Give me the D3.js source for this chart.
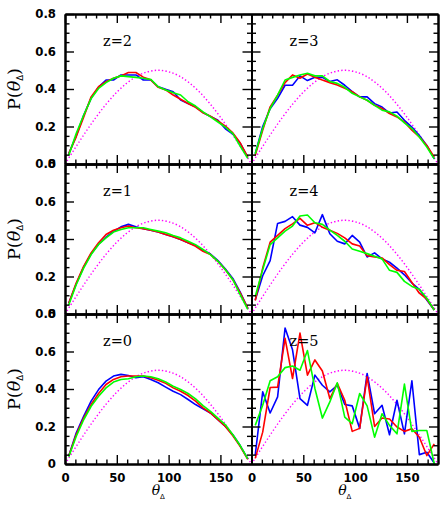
<!DOCTYPE html>
<html>
<head>
<meta charset="utf-8">
<script src="https://cdn.jsdelivr.net/npm/d3@7"></script>
<style>
  body { margin: 0; background: #fff; }
  svg { display: block; }
</style>
</head>
<body>
<div id="chart"></div>
<script>
// bin centres (degrees)
const thetaBins = [3.6, 10.8, 18, 25.2, 32.4, 39.6, 46.8, 54, 61.2, 68.4, 75.6, 82.8, 90,
  97.2, 104.4, 111.6, 118.8, 126, 133.2, 140.4, 147.6, 154.8, 162, 169.2, 176.4];

// isotropic reference curve (magenta, dotted)
const isoTheta = [0, 10, 20, 30, 40, 50, 60, 70, 80, 90, 100, 110, 120, 130, 140, 150, 160, 170, 180];
const isoValues = [0, 0.087, 0.171, 0.25, 0.321, 0.383, 0.433, 0.47, 0.492, 0.5, 0.492, 0.47, 0.433,
  0.383, 0.321, 0.25, 0.171, 0.087, 0];

const yTicks = [0, 0.2, 0.4, 0.6, 0.8];
const yMinorTicks = [0.05, 0.1, 0.15, 0.25, 0.3, 0.35, 0.45, 0.5, 0.55, 0.65, 0.7, 0.75];
const xTicks = [0, 50, 100, 150];
const xMinorTicks = [10, 20, 30, 40, 60, 70, 80, 90, 110, 120, 130, 140, 160, 170];

const blueZ0 = [0.043, 0.165, 0.254, 0.335, 0.397, 0.442, 0.469, 0.478, 0.472, 0.46, 0.465, 0.451, 0.433,
  0.41, 0.388, 0.37, 0.344, 0.317, 0.294, 0.272, 0.236, 0.2, 0.156, 0.097, 0.027];
const redZ0 = [0.043, 0.156, 0.245, 0.317, 0.376, 0.424, 0.451, 0.465, 0.469, 0.469, 0.469, 0.46, 0.447,
  0.43, 0.406, 0.388, 0.365, 0.335, 0.299, 0.272, 0.236, 0.2, 0.15, 0.093, 0.025];
const greenZ0 = [0.039, 0.147, 0.236, 0.308, 0.361, 0.406, 0.437, 0.451, 0.455, 0.465, 0.469, 0.465, 0.455,
  0.437, 0.415, 0.397, 0.376, 0.347, 0.311, 0.281, 0.245, 0.209, 0.156, 0.097, 0.027];

const blueZ1 = [0.057, 0.16, 0.25, 0.32, 0.372, 0.41, 0.44, 0.465, 0.478, 0.465, 0.455, 0.447, 0.437,
  0.424, 0.412, 0.397, 0.38, 0.365, 0.34, 0.32, 0.285, 0.24, 0.19, 0.115, 0.03];
const redZ1 = [0.057, 0.165, 0.254, 0.326, 0.38, 0.424, 0.447, 0.46, 0.469, 0.46, 0.455, 0.447, 0.437,
  0.424, 0.412, 0.397, 0.38, 0.361, 0.334, 0.317, 0.281, 0.236, 0.183, 0.111, 0.03];
const greenZ1 = [0.048, 0.156, 0.245, 0.317, 0.371, 0.406, 0.437, 0.451, 0.46, 0.46, 0.46, 0.451, 0.442,
  0.433, 0.419, 0.406, 0.388, 0.37, 0.344, 0.317, 0.281, 0.236, 0.183, 0.102, 0.025];

const blueZ2 = [0.055, 0.15, 0.26, 0.35, 0.41, 0.448, 0.448, 0.475, 0.475, 0.475, 0.448, 0.448, 0.412,
  0.398, 0.385, 0.341, 0.323, 0.305, 0.275, 0.253, 0.233, 0.188, 0.16, 0.11, 0.035];
const redZ2 = [0.055, 0.145, 0.25, 0.358, 0.412, 0.439, 0.457, 0.47, 0.488, 0.488, 0.463, 0.449, 0.409,
  0.395, 0.368, 0.345, 0.323, 0.302, 0.273, 0.255, 0.23, 0.202, 0.166, 0.112, 0.037];
const greenZ2 = [0.046, 0.162, 0.26, 0.349, 0.403, 0.434, 0.457, 0.47, 0.466, 0.462, 0.457, 0.451, 0.412,
  0.395, 0.38, 0.368, 0.332, 0.309, 0.278, 0.251, 0.224, 0.197, 0.162, 0.094, 0.03];

const blueZ3 = [0.055, 0.2, 0.295, 0.35, 0.42, 0.42, 0.47, 0.445, 0.463, 0.462, 0.44, 0.449, 0.42,
  0.386, 0.358, 0.358, 0.322, 0.304, 0.272, 0.277, 0.233, 0.197, 0.152, 0.099, 0.027];
const redZ3 = [0.046, 0.18, 0.305, 0.367, 0.434, 0.475, 0.457, 0.48, 0.463, 0.448, 0.434, 0.421, 0.404,
  0.386, 0.358, 0.34, 0.313, 0.296, 0.269, 0.251, 0.224, 0.18, 0.144, 0.099, 0.037];
const greenZ3 = [0.055, 0.189, 0.296, 0.367, 0.448, 0.462, 0.475, 0.484, 0.47, 0.47, 0.44, 0.43, 0.409,
  0.377, 0.358, 0.34, 0.313, 0.287, 0.278, 0.255, 0.219, 0.189, 0.144, 0.09, 0.027];

const blueZ4 = [0.075, 0.204, 0.285, 0.483, 0.494, 0.519, 0.474, 0.462, 0.433, 0.53, 0.428, 0.388, 0.374,
  0.419, 0.383, 0.304, 0.326, 0.294, 0.276, 0.245, 0.209, 0.165, 0.132, 0.075, 0.021];
const redZ4 = [0.072, 0.245, 0.383, 0.419, 0.455, 0.481, 0.51, 0.473, 0.487, 0.463, 0.447, 0.43, 0.406,
  0.374, 0.363, 0.311, 0.304, 0.299, 0.263, 0.233, 0.227, 0.168, 0.111, 0.079, 0.021];
const greenZ4 = [0.093, 0.236, 0.37, 0.406, 0.442, 0.469, 0.523, 0.528, 0.487, 0.478, 0.447, 0.419, 0.388,
  0.347, 0.335, 0.322, 0.308, 0.294, 0.233, 0.222, 0.174, 0.147, 0.132, 0.084, 0.021];

const blueZ5 = [0.048, 0.385, 0.272, 0.358, 0.725, 0.609, 0.349, 0.313, 0.474, 0.42, 0.385, 0.42, 0.317,
  0.31, 0.19, 0.483, 0.268, 0.313, 0.156, 0.34, 0.161, 0.444, 0.05, 0.063, 0.005];
const redZ5 = [0.03, 0.17, 0.408, 0.41, 0.67, 0.456, 0.698, 0.474, 0.555, 0.496, 0.349, 0.43, 0.34,
  0.174, 0.19, 0.465, 0.2, 0.245, 0.24, 0.197, 0.174, 0.188, 0.143, 0.045, 0.107];
const greenZ5 = [0.206, 0.313, 0.444, 0.465, 0.514, 0.523, 0.5, 0.605, 0.403, 0.245, 0.331, 0.433, 0.25,
  0.215, 0.376, 0.31, 0.143, 0.268, 0.206, 0.161, 0.426, 0.174, 0.179, 0.179, 0.0];

const panels = [
  { label: "2", row: 0, col: 0, blue: blueZ2, red: redZ2, green: greenZ2 },
  { label: "3", row: 0, col: 1, blue: blueZ3, red: redZ3, green: greenZ3 },
  { label: "1", row: 1, col: 0, blue: blueZ1, red: redZ1, green: greenZ1 },
  { label: "4", row: 1, col: 1, blue: blueZ4, red: redZ4, green: greenZ4 },
  { label: "0", row: 2, col: 0, blue: blueZ0, red: redZ0, green: greenZ0 },
  { label: "5", row: 2, col: 1, blue: blueZ5, red: redZ5, green: greenZ5 }
];

/* Sizing */
const W = 444, H = 512;
const margin = { left: 65, top: 14 };
const panelW = 186.5, panelH = 150;
const majorLen = 9, minorLen = 4.5;

const svg = d3.select("#chart").append("svg")
  .attr("width", W).attr("height", H)
  .style("background", "#fff");

const x = d3.scaleLinear().domain([0, 180]).range([0, panelW]);
const y = d3.scaleLinear().domain([0, 0.8]).range([panelH, 0]);

const line = d3.line().x((d) => x(d[0])).y((d) => y(d[1]));
const smooth = d3.line().x((d) => x(d[0])).y((d) => y(d[1])).curve(d3.curveNatural);

const styleAxis = (sel) => {
  sel.attr("font-family", "DejaVu Sans").attr("font-size", 11.7).attr("font-weight", "bold");
  sel.select(".domain").attr("stroke-width", 2);
  sel.selectAll(".tick line").attr("stroke-width", 1.4);
  sel.selectAll(".tick text").attr("fill", "#000");
};

panels.forEach((p) => {
  const g = svg.append("g")
    .attr("transform", `translate(${margin.left + p.col * panelW},${margin.top + p.row * panelH})`);

  // isotropic curve
  g.append("path")
    .datum(isoTheta.map((t, i) => [t, isoValues[i]]))
    .attr("d", smooth)
    .attr("fill", "none")
    .attr("stroke", "#ff00ff")
    .attr("stroke-width", 1.4)
    .attr("stroke-dasharray", "1.4 2.2");

  [["blue", "#0000ff"], ["red", "#ff0000"], ["green", "#00ff00"]].forEach(([key, col]) => {
    g.append("path")
      .datum(thetaBins.map((t, i) => [t, p[key][i]]))
      .attr("d", line)
      .attr("fill", "none")
      .attr("stroke", col)
      .attr("stroke-width", 1.6)
      .attr("stroke-linejoin", "round");
  });

  const showX = p.row === 2;
  const showY = p.col === 0;

  // minor ticks
  g.append("g").attr("transform", `translate(0,${panelH})`)
    .call(d3.axisBottom(x).tickValues(xMinorTicks).tickSize(-minorLen).tickFormat("").tickSizeOuter(0)).call(styleAxis);
  g.append("g")
    .call(d3.axisTop(x).tickValues(xMinorTicks).tickSize(-minorLen).tickFormat("").tickSizeOuter(0)).call(styleAxis);
  g.append("g")
    .call(d3.axisLeft(y).tickValues(yMinorTicks).tickSize(-minorLen).tickFormat("").tickSizeOuter(0)).call(styleAxis);
  g.append("g").attr("transform", `translate(${panelW},0)`)
    .call(d3.axisRight(y).tickValues(yMinorTicks).tickSize(-minorLen).tickFormat("").tickSizeOuter(0)).call(styleAxis);

  // major ticks
  g.append("g").attr("transform", `translate(0,${panelH})`)
    .call(d3.axisBottom(x).tickValues(xTicks).tickSize(-majorLen).tickPadding(10).tickSizeOuter(0)
      .tickFormat(showX ? d3.format("d") : "")).call(styleAxis);
  g.append("g")
    .call(d3.axisTop(x).tickValues(xTicks).tickSize(-majorLen).tickFormat("").tickSizeOuter(0)).call(styleAxis);
  g.append("g")
    .call(d3.axisLeft(y).tickValues(yTicks).tickSize(-majorLen).tickPadding(9).tickSizeOuter(0)
      .tickFormat(showY ? d3.format("~g") : "")).call(styleAxis);
  g.append("g").attr("transform", `translate(${panelW},0)`)
    .call(d3.axisRight(y).tickValues(yTicks).tickSize(-majorLen).tickFormat("").tickSizeOuter(0)).call(styleAxis);

  // redshift label
  g.append("text")
    .attr("x", 38).attr("y", 31.5)
    .attr("font-family", "DejaVu Serif").attr("font-size", 14.5)
    .text("z=" + p.label);

  // y label
  if (showY) {
    const t = svg.append("text")
      .attr("transform", `translate(19.5,${margin.top + p.row * panelH + panelH / 2}) rotate(-90)`)
      .attr("text-anchor", "middle")
      .attr("font-family", "DejaVu Serif").attr("font-size", 17.5);
    t.append("tspan").text("P(");
    t.append("tspan").attr("font-style", "italic").text("θ");
    t.append("tspan").attr("font-family", "DejaVu Sans").attr("font-size", 8.5).attr("dy", 3).text("Δ");
    t.append("tspan").attr("dy", -3).text(")");
  }

  // x label
  if (showX) {
    const t = svg.append("text")
      .attr("x", margin.left + p.col * panelW + panelW / 2)
      .attr("y", 495)
      .attr("text-anchor", "middle")
      .attr("font-family", "DejaVu Serif").attr("font-size", 14);
    t.append("tspan").attr("font-style", "italic").text("θ");
    t.append("tspan").attr("font-family", "DejaVu Sans").attr("font-size", 7).attr("dy", 4).text("Δ");
  }
});
</script>
</body>
</html>
